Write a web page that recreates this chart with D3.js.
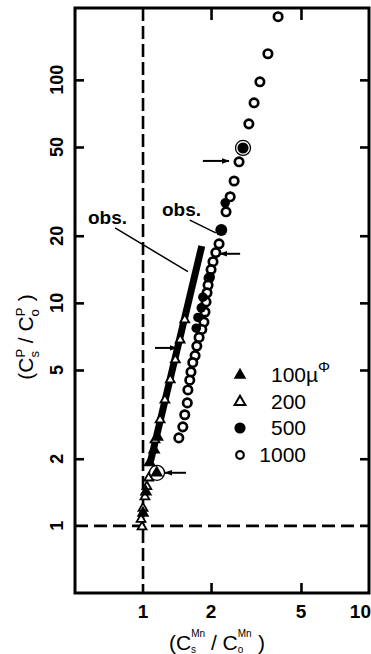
<!DOCTYPE html>
<html><head><meta charset="utf-8">
<script src="https://cdn.jsdelivr.net/npm/d3@7"></script>
<style>body{margin:0;background:#fff}svg{display:block}text{font-family:"Liberation Sans",Arial,sans-serif;fill:#000}</style>
</head><body><svg id="c" width="371" height="654"></svg>
<script>
// ---- data ----
const xTicks = [1, 2, 5, 10];
const xTickLabels = ["1", "2", "5", "10"];
const yTicks = [1, 2, 5, 10, 20, 50, 100];
const yTickLabels = ["1", "2", "5", "10", "20", "50", "100"];
// 1000 µΦ  (open circles)
const s1000x = [3.96,3.57,3.29,3.10,2.94,2.77,2.66,2.53,2.43,2.33,2.17,2.10,2.04,2.00,1.96,1.94,1.92,1.90,1.88,1.86,1.82,1.77,1.73,1.70,1.66,1.63,1.61,1.58,1.57,1.53,1.50,1.44];
const s1000y = [192,131,98,78.9,63.5,49.5,42.9,35.2,29.9,25.6,18.4,16.8,15.3,14.1,12.9,12.0,11.1,10.1,9.1,8.2,7.6,7.0,6.4,5.8,5.4,4.9,4.5,4.07,3.56,3.15,2.78,2.48];
// 500 µΦ (filled circles)
const s500x = [2.31,2.22,1.98,1.84,1.81,1.75,1.72,2.77];
const s500y = [28.1,21.2,13.1,10.6,9.5,8.6,7.7,49.5];
// 100 µΦ (filled triangles)
const s100x = [1.00,1.03,1.07,1.12,1.16,1.15];
const s100y = [1.14,1.42,1.92,2.19,2.5,1.73];
// 200 µΦ (open triangles)
const s200x = [0.99,0.98,1.00,1.02,1.04,1.06,1.13,1.19,1.25,1.32,1.39,1.46,1.53];
const s200y = [0.99,1.07,1.2,1.35,1.5,1.64,2.43,2.99,3.67,4.52,5.55,6.82,8.4];
// observed band
const obsBandX = [1.08, 1.82];
const obsBandY = [1.95, 18];
// circled points
const circledX = [2.77, 1.153];
const circledY = [49.5, 1.73];
// arrows [x0,x1,y]
const arrowX0 = [1.84, 2.69, 1.13, 1.55];
const arrowX1 = [2.40, 2.19, 1.41, 1.25];
const arrowY  = [43.3, 16.6, 6.28, 1.73];
// obs labels and leaders
const obsLeaderX0 = [0.752, 1.61];
const obsLeaderY0 = [21.7, 23.5];
const obsLeaderX1 = [1.58, 2.10];
const obsLeaderY1 = [13.8, 20.6];
const legendLabels = ["100", "200", "500", "1000"];
const legendSymbols = ["triF", "triO", "cirF", "cirO"];

// ---- chart ----
const svg = d3.select("#c");
const x = d3.scaleLog().domain([0.5, 10]).range([75, 369]);
const y = d3.scaleLog().domain([0.5, 210]).range([593, 8]);
const X0 = 75, X1 = 369, Y0 = 593, Y1 = 8;

svg.append("defs").append("marker").attr("id","ah").attr("viewBox","0 0 10 10")
  .attr("refX",9).attr("refY",5).attr("markerWidth",4).attr("markerHeight",4)
  .attr("markerUnits","strokeWidth").attr("orient","auto")
  .append("path").attr("d","M0,1.5L10,5L0,8.5Z").attr("fill","#000");

// dashed reference lines
svg.append("line").attr("x1", x(1)).attr("x2", x(1)).attr("y1", Y1).attr("y2", Y0)
  .attr("stroke","#000").attr("stroke-width",2.6).attr("stroke-dasharray","13,5");
svg.append("line").attr("x1", X0).attr("x2", X1).attr("y1", y(1)).attr("y2", y(1))
  .attr("stroke","#000").attr("stroke-width",2.6).attr("stroke-dasharray","13,6");

// axes (inward ticks)
function styleAxis(g){ g.select(".domain").remove(); g.selectAll("line").attr("stroke","#000").attr("stroke-width",2.6); g.selectAll("text").remove(); }
svg.append("g").attr("transform",`translate(${X0},0)`).call(d3.axisRight(y).tickValues(yTicks.slice(1)).tickSize(9)).call(styleAxis);
svg.append("g").attr("transform",`translate(${X1},0)`).call(d3.axisLeft(y).tickValues(yTicks.slice(1)).tickSize(9)).call(styleAxis);
svg.append("g").attr("transform",`translate(0,${Y0})`).call(d3.axisTop(x).tickValues([2,5]).tickSize(10)).call(styleAxis);
svg.append("g").attr("transform",`translate(0,${Y1})`).call(d3.axisBottom(x).tickValues([2,5]).tickSize(12)).call(styleAxis);

// frame
svg.append("rect").attr("x",X0).attr("y",Y1).attr("width",X1-X0).attr("height",Y0-Y1)
  .attr("fill","none").attr("stroke","#000").attr("stroke-width",3);

// tick labels
svg.selectAll(".yl").data(yTicks).enter().append("text")
  .attr("transform", d => `translate(63,${y(d)}) rotate(-90)`)
  .attr("text-anchor","middle").attr("font-size",18).attr("font-weight","bold")
  .text((d,i) => yTickLabels[i]);
svg.selectAll(".xl").data(xTicks).enter().append("text")
  .attr("x", (d,i) => i === 3 ? x(d) + 2 : x(d)).attr("y", 618)
  .attr("text-anchor",(d,i) => i === 3 ? "end" : "middle").attr("font-size",19).attr("font-weight","bold")
  .text((d,i) => xTickLabels[i]);

// axis titles
const yt = svg.append("text").attr("transform","translate(33,337) rotate(-90)").attr("text-anchor","middle").attr("font-size",21);
yt.append("tspan").text("(C");
yt.append("tspan").attr("font-size",13).attr("dy",-8).text("P");
yt.append("tspan").attr("font-size",13).attr("dx",-8.7).attr("dy",14).text("s");
yt.append("tspan").attr("dx",2).attr("dy",-6).text(" / C");
yt.append("tspan").attr("font-size",13).attr("dy",-8).text("P");
yt.append("tspan").attr("font-size",13).attr("dx",-8.7).attr("dy",14).text("o");
yt.append("tspan").attr("dx",2).attr("dy",-6).text(" )");

const xt = svg.append("text").attr("x",217).attr("y",650).attr("text-anchor","middle").attr("font-size",21);
xt.append("tspan").text("(C");
xt.append("tspan").attr("font-size",10).attr("dy",-13).text("Mn");
xt.append("tspan").attr("font-size",10).attr("dx",-14).attr("dy",16).text("s");
xt.append("tspan").attr("dx",9).attr("dy",-3).text(" / C");
xt.append("tspan").attr("font-size",10).attr("dy",-13).text("Mn");
xt.append("tspan").attr("font-size",10).attr("dx",-14).attr("dy",16).text("o");
xt.append("tspan").attr("dx",9).attr("dy",-3).text(" )");

// observed band
svg.append("line").attr("x1",x(obsBandX[0])).attr("y1",y(obsBandY[0])).attr("x2",x(obsBandX[1])).attr("y2",y(obsBandY[1]))
  .attr("stroke","#000").attr("stroke-width",7);

// markers
const tri = d3.symbol().type(d3.symbolTriangle);
function triangles(xs, ys, filled, size){
  svg.append("g").selectAll("path").data(xs).enter().append("path")
    .attr("transform",(d,i)=>`translate(${x(d)},${y(ys[i])})`)
    .attr("d", tri.size(size)())
    .attr("fill", filled ? "#000" : "#fff").attr("stroke","#000").attr("stroke-width",1.8);
}
triangles(s200x, s200y, false, 34);
triangles(s100x, s100y, true, 40);

svg.append("g").selectAll("circle").data(s1000x).enter().append("circle")
  .attr("cx",d=>x(d)).attr("cy",(d,i)=>y(s1000y[i])).attr("r",4.2)
  .attr("fill","#fff").attr("stroke","#000").attr("stroke-width",2.7);
svg.append("g").selectAll("circle").data(s500x).enter().append("circle")
  .attr("cx",d=>x(d)).attr("cy",(d,i)=>y(s500y[i])).attr("r",(d,i)=> i===1 ? 6 : 4.8)
  .attr("fill","#000");
svg.append("g").selectAll("circle").data(circledX).enter().append("circle")
  .attr("cx",d=>x(d)).attr("cy",(d,i)=>y(circledY[i])).attr("r",7.5)
  .attr("fill","none").attr("stroke","#000").attr("stroke-width",1.3);

// arrows
svg.append("g").selectAll("line").data(arrowX0).enter().append("line")
  .attr("x1",d=>x(d)).attr("x2",(d,i)=>x(arrowX1[i])).attr("y1",(d,i)=>y(arrowY[i])).attr("y2",(d,i)=>y(arrowY[i]))
  .attr("stroke","#000").attr("stroke-width",2).attr("marker-end","url(#ah)");

// obs labels
svg.append("g").selectAll("line").data(obsLeaderX0).enter().append("line")
  .attr("x1",d=>x(d)).attr("y1",(d,i)=>y(obsLeaderY0[i])).attr("x2",(d,i)=>x(obsLeaderX1[i])).attr("y2",(d,i)=>y(obsLeaderY1[i]))
  .attr("stroke","#000").attr("stroke-width",1.5);
svg.append("text").attr("x",88).attr("y",224).attr("font-size",19).attr("font-weight","bold").text("obs.");
svg.append("text").attr("x",162).attr("y",216).attr("font-size",19).attr("font-weight","bold").text("obs.");

// legend
const lg = svg.append("g");
const ly = [375, 402, 428, 455];
legendLabels.forEach((lab,i) => {
  const s = legendSymbols[i];
  if (s === "triF" || s === "triO") {
    lg.append("path").attr("transform",`translate(240,${ly[i]})`).attr("d", tri.size(s==="triF"?36:50)())
      .attr("fill", s==="triF"?"#000":"#fff").attr("stroke","#000").attr("stroke-width",2);
  } else {
    lg.append("circle").attr("cx",240).attr("cy",ly[i]).attr("r", s==="cirF"?4.5:3.8)
      .attr("fill", s==="cirF"?"#000":"#fff").attr("stroke","#000").attr("stroke-width",2.2);
  }
  lg.append("text").attr("x",306).attr("y",ly[i]+7).attr("text-anchor","end").attr("font-size",21).text(lab);
});
const mu = lg.append("text").attr("x",306).attr("y",ly[0]+7).attr("font-size",21);
mu.append("tspan").text("µ");
mu.append("tspan").attr("font-size",15).attr("dy",-10).text("Φ");
</script></body></html>
